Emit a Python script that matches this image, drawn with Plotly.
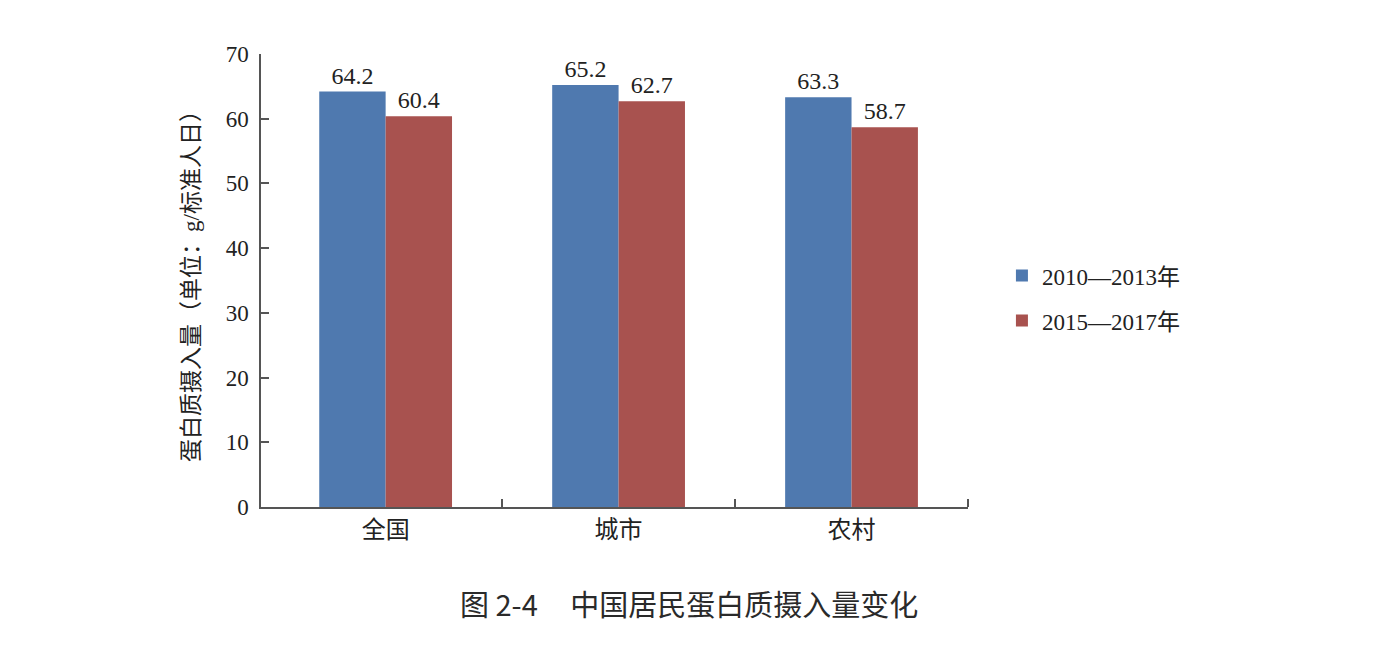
import plotly.graph_objects as go

categories = ["全国", "城市", "农村"]
series_names = ["2010—2013年", "2015—2017年"]
values_2010_2013 = [64.2, 65.2, 63.3]
values_2015_2017 = [60.4, 62.7, 58.7]
colors = ["#4F79AF", "#A8524F"]
y_ticks = [0, 10, 20, 30, 40, 50, 60, 70]

serif = "Liberation Serif, Times New Roman, Noto Sans CJK SC"
positions = list(range(len(categories)))
boundaries = [p + 0.5 for p in positions]

fig = go.Figure()
for name, vals, col, grp in [
    (series_names[0], values_2010_2013, colors[0], "a"),
    (series_names[1], values_2015_2017, colors[1], "b"),
]:
    fig.add_trace(go.Bar(
        x=positions, y=vals, name=name, marker_color=col,
        marker_line_width=0, legendgroup=grp,
        text=[f"{v:.1f}" for v in vals], textposition="outside",
        textfont=dict(family=serif, size=24, color="#222"),
        cliponaxis=False,
    ))

L, R, T, B = 253, 438, 46, 159
plot_w = 1398 - L - R
plot_h = 658 - T - B

fig.update_layout(
    width=1398, height=658,
    paper_bgcolor="white", plot_bgcolor="white",
    barmode="group", bargap=0.43, bargroupgap=0,
    margin=dict(l=L, r=R, t=T, b=B),
    showlegend=True,
    legend=dict(x=1.048, y=0.461, xanchor="left", yanchor="middle",
                font=dict(family=serif, size=23, color="#222"),
                traceorder="grouped", tracegroupgap=12,
                itemwidth=30),
    font=dict(family=serif, color="#222"),
    annotations=[dict(
        text="图 2-4     中国居民蛋白质摄入量变化",
        x=(689 - 8 - L) / plot_w, y=(658 - B - (603 - 8)) / plot_h,
        xref="paper", yref="paper", xanchor="center", yanchor="middle",
        showarrow=False,
        font=dict(family="Noto Sans CJK SC", size=29, color="#2a2a2a"),
    )],
)

fig.update_xaxes(
    range=[-0.535, 2.5],
    tickvals=positions, ticktext=categories, ticks="",
    minor=dict(tickvals=boundaries, ticks="inside", ticklen=8,
               tickcolor="#555", tickwidth=1.5),
    showline=True, linecolor="#555", linewidth=1.5,
    tickfont=dict(family=serif, size=24, color="#222"),
    showgrid=False, zeroline=False,
)
fig.update_yaxes(
    range=[0, 70], tickvals=y_ticks,
    showline=True, linecolor="#555", linewidth=1.5,
    ticks="inside", ticklen=8, tickcolor="#555", tickwidth=1.5,
    ticklabelstandoff=6,
    tickfont=dict(family=serif, size=23, color="#222"),
    showgrid=False, zeroline=False,
    title=dict(text="蛋白质摄入量（单位：g/标准人日）",
               font=dict(family=serif, size=23, color="#222"), standoff=20),
)

fig.write_html("out.html")
